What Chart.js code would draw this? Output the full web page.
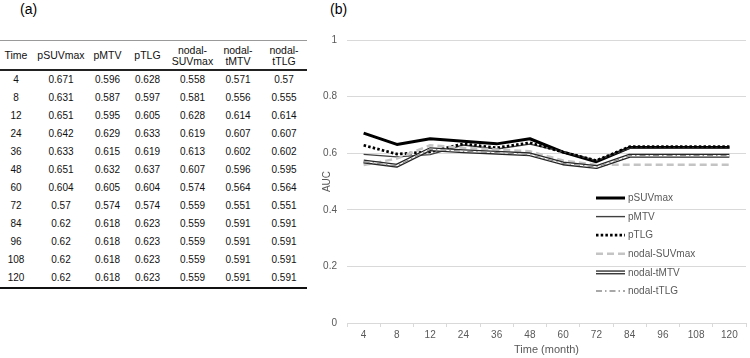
<!DOCTYPE html>
<html>
<head>
<meta charset="utf-8">
<script src="https://cdn.jsdelivr.net/npm/chart.js@4/dist/chart.umd.min.js"></script>
<style>
  html, body { margin: 0; padding: 0; background: #fff; }
  body { width: 750px; height: 358px; position: relative; overflow: hidden; font-family: "Liberation Sans", Arial, sans-serif; }
  .panel-label { position: absolute; top: 1px; font-size: 14px; line-height: 16px; color: #000; }
  #tblWrap { position: absolute; left: 0; top: 40px; width: 307px; }
  table { border-collapse: separate; border-spacing: 0; table-layout: fixed; width: 307px; color: #111; }
  thead th { font-weight: normal; font-size: 10.5px; line-height: 11.5px; height: 26px; padding: 2px 0 0 0; vertical-align: middle; text-align: center; border-top: 1px solid #9a9a9a; border-bottom: 2px solid #222; }
  tbody td { font-size: 10px; height: 18px; padding: 0; text-align: center; line-height: 18px; }
  tbody tr:last-child td { border-bottom: 2px solid #111; }
  #chartWrap { position: absolute; left: 320px; top: 0; width: 430px; height: 358px; }
</style>
</head>
<body>
<div class="panel-label" style="left:20px">(a)</div>
<div class="panel-label" style="left:330px">(b)</div>
<div id="tblWrap"><table id="tbl">
  <colgroup><col style="width:32px"><col style="width:58px"><col style="width:35px"><col style="width:45px"><col style="width:45px"><col style="width:46px"><col style="width:46px"></colgroup>
  <thead><tr id="hdr"></tr></thead>
  <tbody id="tbody"></tbody>
</table></div>
<div id="chartWrap"><canvas id="c" width="430" height="358"></canvas></div>
<script>
// ---- data ----
const timeLabels = ["4", "8", "12", "24", "36", "48", "60", "72", "84", "96", "108", "120"];
const pSUVmax     = [0.671, 0.631, 0.651, 0.642, 0.633, 0.651, 0.604, 0.57,  0.62,  0.62,  0.62,  0.62];
const pMTV        = [0.596, 0.587, 0.595, 0.629, 0.615, 0.632, 0.605, 0.574, 0.618, 0.618, 0.618, 0.618];
const pTLG        = [0.628, 0.597, 0.605, 0.633, 0.619, 0.637, 0.604, 0.574, 0.623, 0.623, 0.623, 0.623];
const nodalSUVmax = [0.558, 0.581, 0.628, 0.619, 0.613, 0.607, 0.574, 0.559, 0.559, 0.559, 0.559, 0.559];
const nodalTMTV   = [0.571, 0.556, 0.614, 0.607, 0.602, 0.596, 0.564, 0.551, 0.591, 0.591, 0.591, 0.591];
const nodalTTLG   = [0.57,  0.555, 0.614, 0.607, 0.602, 0.595, 0.564, 0.551, 0.591, 0.591, 0.591, 0.591];
const seriesNames = ["pSUVmax", "pMTV", "pTLG", "nodal-SUVmax", "nodal-tMTV", "nodal-tTLG"];
const tableHeaders = ["Time", "pSUVmax", "pMTV", "pTLG", "nodal-<br>SUVmax", "nodal-<br>tMTV", "nodal-<br>tTLG"];
const yTicks = [0, 0.2, 0.4, 0.6, 0.8, 1];
const yTickLabels = ["0", "0.2", "0.4", "0.6", "0.8", "1"];
const xTitle = "Time (month)";
const yTitle = "AUC";

// ---- table ----
const seriesData = [pSUVmax, pMTV, pTLG, nodalSUVmax, nodalTMTV, nodalTTLG];
document.getElementById('hdr').innerHTML = tableHeaders.map(h => '<th>' + h + '</th>').join('');
document.getElementById('tbody').innerHTML = timeLabels.map((t, i) =>
  '<tr><td>' + t + '</td>' + seriesData.map(s => '<td>' + s[i] + '</td>').join('') + '</tr>').join('');

// ---- chart ----
const FONT = '"Liberation Sans", Arial, sans-serif';
const styles = [
  { borderColor: '#000000', borderWidth: 3 },
  { borderColor: '#404040', borderWidth: 1.4 },
  { borderColor: '#000000', borderWidth: 2.75, borderDash: [2.5, 2.2] },
  { borderColor: '#c4c4c4', borderWidth: 2.5, borderDash: [7, 4] },
  { borderColor: '#262626', borderWidth: 4, inner: '#ffffff' },
  { borderColor: '#8c8c8c', borderWidth: 1.4, borderDash: [6, 3, 1.5, 3] }
];
const datasets = [];
seriesData.forEach((d, i) => {
  const st = styles[i];
  datasets.push(Object.assign({
    label: seriesNames[i], data: d, fill: false, tension: 0, pointRadius: 0,
    borderJoinStyle: 'round', borderCapStyle: 'butt', order: 20 - 2 * i, showInLegend: true
  }, st));
  if (st.inner) {
    datasets.push({
      label: seriesNames[i] + ' inner', data: d, fill: false, tension: 0, pointRadius: 0,
      borderColor: st.inner, borderWidth: 1.4, borderJoinStyle: 'round', order: 19 - 2 * i, showInLegend: false
    });
  }
});

const legendPlugin = {
  id: 'customLegend',
  afterDatasetsDraw(chart) {
    const ctx = chart.ctx, ca = chart.chartArea;
    const x0 = ca.left + 249, x1 = ca.left + 278, tx = ca.left + 281;
    let y = ca.top + 158;
    ctx.save();
    ctx.font = '10px ' + FONT;
    ctx.textBaseline = 'middle';
    ctx.textAlign = 'left';
    chart.data.datasets.filter(d => d.showInLegend).forEach(ds => {
      ctx.beginPath();
      ctx.setLineDash(ds.borderDash || []);
      ctx.lineWidth = ds.borderWidth;
      ctx.strokeStyle = ds.borderColor;
      ctx.lineCap = 'butt';
      ctx.moveTo(x0, y); ctx.lineTo(x1, y); ctx.stroke();
      if (ds.inner) {
        ctx.beginPath(); ctx.lineWidth = 1.4; ctx.strokeStyle = ds.inner;
        ctx.moveTo(x0, y); ctx.lineTo(x1, y); ctx.stroke();
      }
      ctx.setLineDash([]);
      ctx.fillStyle = '#595959';
      ctx.fillText(ds.label, tx, y + 0.5);
      y += 18.6;
    });
    ctx.restore();
  }
};

new Chart(document.getElementById('c'), {
  type: 'line',
  data: { labels: timeLabels, datasets },
  options: {
    responsive: false, animation: false, devicePixelRatio: 1,
    layout: { padding: { top: 40, right: 4, left: 0, bottom: 0 } },
    plugins: { legend: { display: false }, tooltip: { enabled: false }, title: { display: false } },
    scales: {
      x: {
        offset: true,
        grid: { offset: true, drawOnChartArea: false, color: '#d9d9d9', tickLength: 4 },
        border: { display: true, color: '#d9d9d9' },
        ticks: { color: '#595959', font: { family: FONT, size: 10 }, padding: 2, maxRotation: 0, autoSkip: false },
        title: { display: true, text: xTitle, color: '#595959', font: { family: FONT, size: 11 }, padding: { top: 0, bottom: 1 } },
        afterFit(s) { s.height = 35; }
      },
      y: {
        min: 0, max: 1,
        afterBuildTicks(s) { s.ticks = yTicks.map(v => ({ value: v })); },
        grid: { color: '#d9d9d9', drawTicks: false },
        border: { display: false },
        ticks: {
          color: '#595959', font: { family: FONT, size: 10 }, padding: 10,
          callback(v, i) { return yTickLabels[i]; }
        },
        title: { display: true, text: yTitle, color: '#595959', font: { family: FONT, size: 10 }, padding: { top: 1, bottom: 0 } },
        afterFit(s) { s.width = 27; }
      }
    }
  },
  plugins: [legendPlugin]
});
</script>
</body>
</html>
